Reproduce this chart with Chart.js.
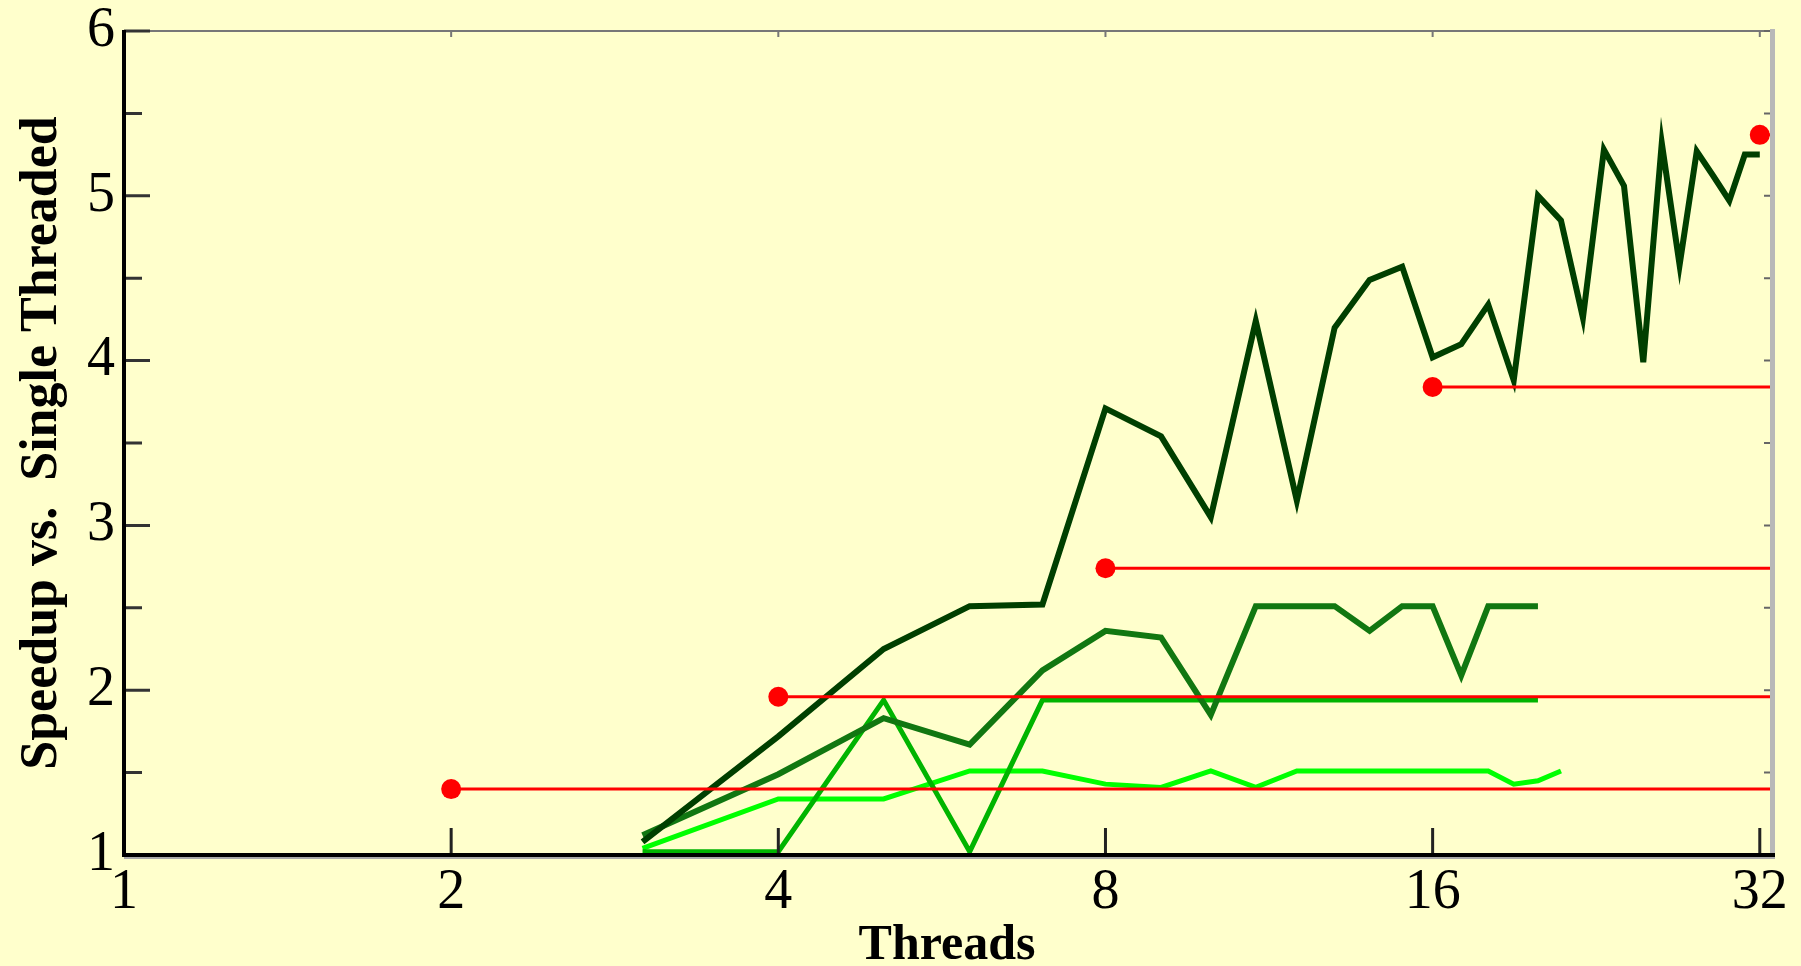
<!DOCTYPE html>
<html>
<head>
<meta charset="utf-8">
<title>Speedup vs. Single Threaded</title>
<script src="https://cdn.jsdelivr.net/npm/chart.js@4.4.1/dist/chart.umd.min.js"></script>
<style>
  html, body { margin: 0; padding: 0; background: #ffffcc; overflow: hidden; }
  canvas { display: block; }
</style>
</head>
<body>
<canvas id="speedupChart" width="1801" height="966"></canvas>
<script>
const threadsA = [3, 4, 5, 6, 7, 8, 9, 10, 11, 12, 13, 14, 15, 16, 17,
  18, 19, 20, 21, 22, 23, 24, 25, 26, 27, 28, 29, 30, 31, 32];
const threadsB = [3, 4, 5, 6, 7, 8, 9, 10, 11, 12, 13, 14, 15, 16, 17, 18, 19, 20];
const threadsD = [3, 4, 5, 6, 7, 8, 9, 10, 11, 12, 13, 14, 15, 16, 17, 18, 19, 20, 21];

const speedupDark = [1.08, 1.72, 2.25, 2.51, 2.52, 3.71, 3.54, 3.05, 4.24, 3.15,
  4.20, 4.49, 4.57, 4.02, 4.10, 4.34, 3.88, 5.00, 4.85, 4.26,
  5.28, 5.06, 3.99, 5.32, 4.58, 5.27, 5.12, 4.97, 5.25, 5.25];
const speedupMid = [1.12, 1.49, 1.83, 1.67, 2.12, 2.36, 2.32, 1.85, 2.51, 2.51,
  2.51, 2.36, 2.51, 2.51, 2.09, 2.51, 2.51, 2.51];
const speedupGreen = [1.02, 1.02, 1.94, 1.02, 1.94, 1.94, 1.94, 1.94, 1.94, 1.94,
  1.94, 1.94, 1.94, 1.94, 1.94, 1.94, 1.94, 1.94];
const speedupLight = [1.04, 1.34, 1.34, 1.51, 1.51, 1.43, 1.41, 1.51, 1.41, 1.51,
  1.51, 1.51, 1.51, 1.51, 1.51, 1.51, 1.43, 1.45, 1.51];

// red reference levels: start thread count and level
const refStarts = [2, 4, 8, 16, 32];
const refLevels = [1.40, 1.96, 2.74, 3.84, 5.37];

const xTickValues = [1, 2, 4, 8, 16, 32];
const yTickValues = [1, 2, 3, 4, 5, 6];
const yMinorValues = [1.5, 2.5, 3.5, 4.5, 5.5];
const X_MAX = 32.7;

const serif = '"Liberation Serif", "Times New Roman", serif';
Chart.defaults.font.family = serif;

const toPoints = (xs, ys) => ys.map((y, i) => ({ x: xs[i], y: y }));

const refDatasets = refStarts.map((start, i) => ({
  label: 'ref ' + start,
  data: [{ x: start, y: refLevels[i] }, { x: X_MAX, y: refLevels[i] }],
  borderColor: '#ff0000',
  borderWidth: 3,
  pointRadius: [10, 0],
  pointBackgroundColor: '#ff0000',
  pointBorderWidth: 0,
  pointHoverRadius: 0,
}));

const greenLine = (label, data, color, width) => ({
  label: label,
  data: data,
  borderColor: color,
  borderWidth: width,
  pointRadius: 0,
  tension: 0,
  borderJoinStyle: 'miter',
});

// background and hand-drawn axis frame (ticks point inward)
const framePlugin = {
  id: 'frame',
  beforeDraw(chart) {
    const { ctx, width, height } = chart;
    ctx.save();
    ctx.fillStyle = '#ffffcc';
    ctx.fillRect(0, 0, width, height);
    ctx.restore();
  },
  afterDatasetsDraw(chart) {
    const { ctx, chartArea: a, scales } = chart;
    const x = scales.x;
    const y = scales.y;
    ctx.save();
    ctx.lineCap = 'butt';

    // top border + small ticks
    ctx.strokeStyle = '#777777';
    ctx.lineWidth = 2;
    ctx.beginPath();
    ctx.moveTo(a.left, a.top);
    ctx.lineTo(a.right, a.top);
    xTickValues.slice(1).forEach((v) => {
      const px = x.getPixelForValue(v);
      ctx.moveTo(px, a.top);
      ctx.lineTo(px, a.top + 6);
    });
    ctx.stroke();

    // right border
    ctx.strokeStyle = '#b8b8b8';
    ctx.lineWidth = 5;
    ctx.beginPath();
    ctx.moveTo(a.right + 2.5, a.top - 2);
    ctx.lineTo(a.right + 2.5, a.bottom + 2);
    ctx.stroke();
    ctx.strokeStyle = '#666666';
    ctx.lineWidth = 2;
    ctx.beginPath();
    yTickValues.concat(yMinorValues).forEach((v) => {
      const py = y.getPixelForValue(v);
      ctx.moveTo(a.right, py);
      ctx.lineTo(a.right - 6, py);
    });
    ctx.stroke();

    // y ticks
    ctx.strokeStyle = '#333333';
    ctx.lineWidth = 3;
    ctx.beginPath();
    yTickValues.forEach((v) => {
      const py = y.getPixelForValue(v);
      ctx.moveTo(a.left, py);
      ctx.lineTo(a.left + 26, py);
    });
    yMinorValues.forEach((v) => {
      const py = y.getPixelForValue(v);
      ctx.moveTo(a.left, py);
      ctx.lineTo(a.left + 18, py);
    });
    ctx.stroke();

    // x ticks
    ctx.strokeStyle = '#222222';
    ctx.beginPath();
    xTickValues.slice(1).forEach((v) => {
      const px = x.getPixelForValue(v);
      ctx.moveTo(px, a.bottom);
      ctx.lineTo(px, a.bottom - 27);
    });
    ctx.stroke();

    // bottom axis with grey shadow
    ctx.strokeStyle = '#aaaaaa';
    ctx.lineWidth = 2;
    ctx.beginPath();
    ctx.moveTo(a.left, a.bottom + 3);
    ctx.lineTo(a.right + 5, a.bottom + 3);
    ctx.stroke();
    ctx.strokeStyle = '#000000';
    ctx.lineWidth = 4;
    ctx.beginPath();
    ctx.moveTo(a.left - 2, a.bottom);
    ctx.lineTo(a.right + 5, a.bottom);
    ctx.stroke();

    // left axis
    ctx.beginPath();
    ctx.moveTo(a.left, a.top - 1);
    ctx.lineTo(a.left, a.bottom + 2);
    ctx.stroke();

    ctx.restore();
  },
};

const ctx = document.getElementById('speedupChart').getContext('2d');
new Chart(ctx, {
  type: 'line',
  data: {
    datasets: [
      ...refDatasets,
      greenLine('dark', toPoints(threadsA, speedupDark), '#003f00', 6),
      greenLine('mid', toPoints(threadsB, speedupMid), '#117711', 6),
      greenLine('green', toPoints(threadsB, speedupGreen), '#00b400', 5),
      greenLine('light', toPoints(threadsD, speedupLight), '#00ff00', 5),
    ],
  },
  options: {
    responsive: false,
    animation: false,
    layout: { padding: { top: 31, right: 31, left: 0, bottom: 0 } },
    plugins: {
      legend: { display: false },
      tooltip: { enabled: false },
    },
    scales: {
      x: {
        type: 'logarithmic',
        min: 1,
        max: X_MAX,
        afterBuildTicks: (scale) => {
          scale.ticks = xTickValues.map((v) => ({ value: v }));
        },
        afterFit: (scale) => {
          scale.height = 111;
          scale.paddingLeft = 0;
          scale.paddingRight = 0;
        },
        ticks: {
          callback: (value) => String(value),
          autoSkip: false,
          maxRotation: 0,
          padding: 5,
          color: '#000000',
          font: { family: serif, size: 56 },
        },
        grid: { display: false, drawTicks: false },
        border: { display: false },
        title: {
          display: true,
          text: 'Threads',
          color: '#000000',
          padding: { top: 0, bottom: -5 },
          font: { family: serif, size: 50, weight: 'bold', lineHeight: 1 },
        },
      },
      y: {
        type: 'linear',
        min: 1,
        max: 6,
        afterBuildTicks: (scale) => {
          scale.ticks = yTickValues.map((v) => ({ value: v }));
        },
        afterFit: (scale) => {
          scale.width = 124;
          scale.paddingTop = 0;
          scale.paddingBottom = 0;
        },
        ticks: {
          padding: 9,
          color: '#000000',
          font: { family: serif, size: 56 },
        },
        grid: { display: false, drawTicks: false },
        border: { display: false },
        title: {
          display: true,
          text: 'Speedup vs.  Single Threaded',
          color: '#000000',
          padding: { top: 17, bottom: 0 },
          font: { family: serif, size: 52, weight: 'bold', lineHeight: 1 },
        },
      },
    },
  },
  plugins: [framePlugin],
});
</script>
</body>
</html>
